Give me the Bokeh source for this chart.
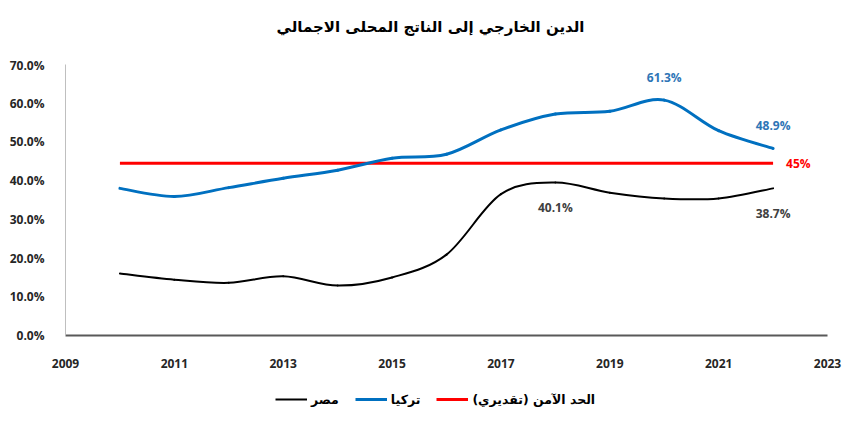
from bokeh.plotting import figure
from bokeh.layouts import column
from bokeh.models import (Range1d, FixedTicker, PrintfTickFormatter, Legend, LegendItem)
from bokeh.core.properties import value
from bokeh.embed import file_html
from bokeh.resources import INLINE

title_text = "الدين الخارجي إلى الناتج المحلى الاجمالي"
years = [2010, 2011, 2012, 2013, 2014, 2015, 2016, 2017, 2018, 2019, 2020, 2021, 2022]
egypt = [16.0, 14.4, 13.6, 15.3, 12.9, 15.0, 20.9, 36.5, 39.5, 36.9, 35.4, 35.4, 38.0]
turkey = [38.0, 35.9, 38.2, 40.6, 42.7, 45.8, 46.8, 53.1, 57.2, 57.9, 60.8, 52.9, 48.3]
safe_years = [2010, 2022]
safe = [44.5, 44.5]
names = ["مصر", "تركيا", "الحد الآمن (تقديري)"]
x_ticks = [2009, 2011, 2013, 2015, 2017, 2019, 2021, 2023]
y_ticks = [0, 10, 20, 30, 40, 50, 60, 70]

# data labels
turkey_lbl_years = [2020, 2022]
turkey_lbl_vals = [60.8, 48.3]
turkey_lbl_text = ["61.3%", "48.9%"]
egypt_lbl_years = [2018, 2022]
egypt_lbl_vals = [39.5, 38.0]
egypt_lbl_text = ["40.1%", "38.7%"]
safe_lbl_text = ["45%"]

FONT = "Open Sans"
AR_FONT = "DejaVu Sans"
BLUE = "#0070C0"
RED = "#FF0000"
BLACK = "#000000"


def smooth_segments(xs, ys):
    """Bezier control points (Catmull-Rom style smoothing, as in spreadsheet smoothed lines)."""
    n = len(xs)
    d = dict(x0=[], y0=[], x1=[], y1=[], cx0=[], cy0=[], cx1=[], cy1=[])
    for i in range(n - 1):
        pm = max(i - 1, 0)
        pp = min(i + 2, n - 1)
        d["x0"].append(xs[i]); d["y0"].append(ys[i])
        d["x1"].append(xs[i + 1]); d["y1"].append(ys[i + 1])
        d["cx0"].append(xs[i] + (xs[i + 1] - xs[pm]) / 6.0)
        d["cy0"].append(ys[i] + (ys[i + 1] - ys[pm]) / 6.0)
        d["cx1"].append(xs[i + 1] - (xs[pp] - xs[i]) / 6.0)
        d["cy1"].append(ys[i + 1] - (ys[pp] - ys[i]) / 6.0)
    return d


def blank(height):
    f = figure(width=844, height=height, output_backend="svg", toolbar_location=None,
               x_range=Range1d(0, 1), y_range=Range1d(0, 1),
               x_axis_type=None, y_axis_type=None,
               min_border_left=0, min_border_right=0, min_border_top=0, min_border_bottom=0)
    f.outline_line_color = None
    f.background_fill_color = "white"
    f.border_fill_color = "white"
    return f


# ---- title
tf = blank(56)
tf.text(x=[0.5], y=[0.5], text=[title_text], x_offset=-16, y_offset=-2,
        text_align="center", text_baseline="middle",
        text_font=value(AR_FONT), text_font_style="bold", text_font_size="15px",
        text_color="#000000")

# ---- main chart
p = figure(width=844, height=328, output_backend="svg", toolbar_location=None,
           x_range=Range1d(2009, 2023), y_range=Range1d(0, 70),
           min_border_left=65, min_border_right=17, min_border_top=8, min_border_bottom=49)
p.outline_line_color = None
p.xgrid.visible = False
p.ygrid.visible = False
p.background_fill_color = "white"
p.border_fill_color = "white"

p.xaxis.ticker = FixedTicker(ticks=x_ticks)
p.yaxis.ticker = FixedTicker(ticks=y_ticks)
p.yaxis.formatter = PrintfTickFormatter(format="%.1f%%")
for ax in (p.xaxis[0], p.yaxis[0]):
    ax.major_tick_line_color = None
    ax.minor_tick_line_color = None
    ax.major_label_text_font = FONT
    ax.major_label_text_font_style = "bold"
    ax.major_label_text_font_size = "12px"
    ax.major_label_text_color = "#262626"
p.xaxis.axis_line_color = "#595959"
p.xaxis.axis_line_width = 2
p.xaxis.major_label_standoff = 17
p.yaxis.axis_line_color = "#BFBFBF"
p.yaxis.axis_line_width = 1
p.yaxis.major_label_standoff = 15

p.line(safe_years, safe, line_color=RED, line_width=3)
p.bezier(source=smooth_segments(years, turkey), x0="x0", y0="y0", x1="x1", y1="y1",
         cx0="cx0", cy0="cy0", cx1="cx1", cy1="cy1",
         line_color=BLUE, line_width=3, line_cap="round")
p.bezier(source=smooth_segments(years, egypt), x0="x0", y0="y0", x1="x1", y1="y1",
         cx0="cx0", cy0="cy0", cx1="cx1", cy1="cy1",
         line_color=BLACK, line_width=2, line_cap="round")

p.text(x=turkey_lbl_years, y=turkey_lbl_vals, text=turkey_lbl_text, y_offset=-23,
       text_align="center", text_baseline="middle", text_color="#2E75B6",
       text_font=value(FONT), text_font_style="bold", text_font_size="12px")
p.text(x=egypt_lbl_years, y=egypt_lbl_vals, text=egypt_lbl_text, y_offset=25,
       text_align="center", text_baseline="middle", text_color="#404040",
       text_font=value(FONT), text_font_style="bold", text_font_size="12px")
p.text(x=[safe_years[-1]], y=[safe[-1]], text=safe_lbl_text, x_offset=13,
       text_align="left", text_baseline="middle", text_color=RED,
       text_font=value(FONT), text_font_style="bold", text_font_size="12px")

# ---- legend (series drawn out of this strip's range; only their legend swatches show)
lf = blank(30)
le = lf.line(years, egypt, line_color=BLACK, line_width=2)
lt = lf.line(years, turkey, line_color=BLUE, line_width=3)
ls = lf.line(safe_years, safe, line_color=RED, line_width=3)
legend = Legend(items=[LegendItem(label=names[0], renderers=[le]),
                       LegendItem(label=names[1], renderers=[lt]),
                       LegendItem(label=names[2], renderers=[ls])],
                orientation="horizontal", location=(210, 5),
                border_line_color=None, background_fill_alpha=0,
                label_text_font=AR_FONT, label_text_font_style="bold",
                label_text_font_size="12.5px", label_text_color="#000000",
                glyph_width=32, label_standoff=4, spacing=16, padding=0, margin=0)
lf.add_layout(legend, "center")

layout = column(tf, p, lf, spacing=0)
open("out.html", "w").write(file_html(layout, INLINE))
